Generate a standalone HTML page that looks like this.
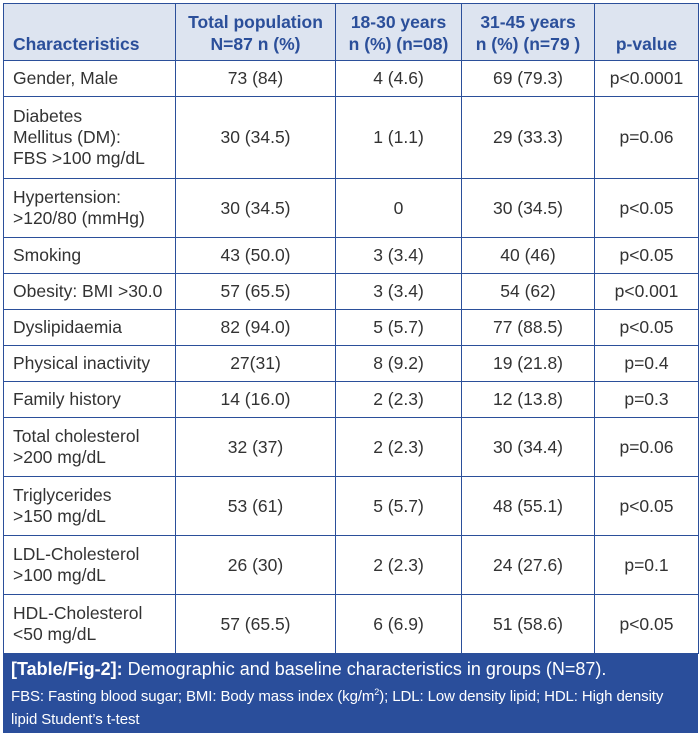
<!DOCTYPE html><html><head><style>
body{margin:0;width:700px;height:738px;background:#fff;font-family:"Liberation Sans",sans-serif;position:relative;overflow:hidden}
table{position:absolute;left:3px;top:3px;border-collapse:collapse;width:695px;table-layout:fixed}
td,th{border:1.5px solid #2b4f9a;font-size:17.5px;color:#333;padding:0 9px;line-height:21px;text-align:center}
td:first-child{text-align:left}
th{background:#dde4f0;color:#2b4f9a;font-weight:bold;height:51px;vertical-align:bottom;padding-bottom:5px;line-height:22px}
th:first-child{text-align:left}
tr.a td{height:35px}tr.b td{height:58px}tr.c td{height:81px}
.cap{position:absolute;left:3px;top:654px;width:695px;height:79px;background:#2a4e9b;color:#fff;box-sizing:border-box;padding:3px 8px}
.cap .t{font-size:18px;line-height:24px}.cap .s{font-size:15px;line-height:23px;letter-spacing:-0.1px}
</style></head><body>
<table>
<colgroup><col style="width:172px"><col style="width:160px"><col style="width:126px"><col style="width:133px"><col style="width:104px"></colgroup>
<tr><th>Characteristics</th><th>Total population<br>N=87 n (%)</th><th>18-30 years<br>n (%) (n=08)</th><th>31-45 years<br>n (%) (n=79 )</th><th>p-value</th></tr>
<tr class="a"><td>Gender, Male</td><td>73 (84)</td><td>4 (4.6)</td><td>69 (79.3)</td><td>p&lt;0.0001</td></tr>
<tr class="c"><td>Diabetes<br>Mellitus (DM):<br>FBS &gt;100 mg/dL</td><td>30 (34.5)</td><td>1 (1.1)</td><td>29 (33.3)</td><td>p=0.06</td></tr>
<tr class="b"><td>Hypertension:<br>&gt;120/80 (mmHg)</td><td>30 (34.5)</td><td>0</td><td>30 (34.5)</td><td>p&lt;0.05</td></tr>
<tr class="a"><td>Smoking</td><td>43 (50.0)</td><td>3 (3.4)</td><td>40 (46)</td><td>p&lt;0.05</td></tr>
<tr class="a"><td>Obesity: BMI &gt;30.0</td><td>57 (65.5)</td><td>3 (3.4)</td><td>54 (62)</td><td>p&lt;0.001</td></tr>
<tr class="a"><td>Dyslipidaemia</td><td>82 (94.0)</td><td>5 (5.7)</td><td>77 (88.5)</td><td>p&lt;0.05</td></tr>
<tr class="a"><td>Physical inactivity</td><td>27(31)</td><td>8 (9.2)</td><td>19 (21.8)</td><td>p=0.4</td></tr>
<tr class="a"><td>Family history</td><td>14 (16.0)</td><td>2 (2.3)</td><td>12 (13.8)</td><td>p=0.3</td></tr>
<tr class="b"><td>Total cholesterol<br>&gt;200 mg/dL</td><td>32 (37)</td><td>2 (2.3)</td><td>30 (34.4)</td><td>p=0.06</td></tr>
<tr class="b"><td>Triglycerides<br>&gt;150 mg/dL</td><td>53 (61)</td><td>5 (5.7)</td><td>48 (55.1)</td><td>p&lt;0.05</td></tr>
<tr class="b"><td>LDL-Cholesterol<br>&gt;100 mg/dL</td><td>26 (30)</td><td>2 (2.3)</td><td>24 (27.6)</td><td>p=0.1</td></tr>
<tr class="b"><td>HDL-Cholesterol<br>&lt;50 mg/dL</td><td>57 (65.5)</td><td>6 (6.9)</td><td>51 (58.6)</td><td>p&lt;0.05</td></tr>
</table>
<div class="cap"><div class="t"><b>[Table/Fig-2]:</b> Demographic and baseline characteristics in groups (N=87).</div>
<div class="s">FBS: Fasting blood sugar; BMI: Body mass index (kg/m<sup style="font-size:9px">2</sup>); LDL: Low density lipid; HDL: High density<br>lipid Student’s t-test</div></div>
</body></html>
